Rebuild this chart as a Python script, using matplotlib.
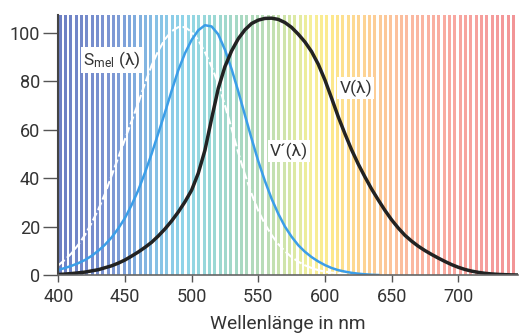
import numpy as np
import matplotlib
matplotlib.use('Agg')
import matplotlib.pyplot as plt
from matplotlib.colors import LinearSegmentedColormap

plt.rcParams['font.family'] = ['Roboto', 'DejaVu Sans']
plt.rcParams['mathtext.default'] = 'regular'

# Kurvenwerte alle 5 nm ab 400 nm
v_photopic = [0.2, 0.4, 0.6, 0.9, 1.2, 1.7, 2.2, 3.0, 3.8, 4.9,
              6.2, 7.8, 9.5, 11.4, 13.5, 16.1, 19, 22.3, 26, 30.2,
              35, 42, 51.5, 64.5, 77, 86, 92.5, 97.5, 101.2, 103.8,
              105.2, 105.9, 106, 105.5, 104.2, 102.2, 99.4, 96.2, 92.2, 87,
              80.5, 73, 65.3, 58.3, 51.7, 45.8, 40.5, 35.5, 31, 26.7,
              22.8, 19.4, 16.4, 14.0, 11.9, 10.1, 8.5, 7.0, 5.6, 4.3,
              3.2, 2.3, 1.6, 1.1, 0.7, 0.45, 0.25, 0.15, 0.05, 0]
v_scotopic = [2.1, 2.9, 3.8, 4.9, 6.2, 7.9, 10, 12.5, 15.5, 19.2,
              23.5, 28.9, 35, 42.2, 50, 58.5, 67, 76, 84.5, 91.5,
              97, 101, 103.1, 102.6, 99.3, 93, 85, 75.8, 66, 56.3,
              47, 38.8, 31.5, 25.3, 20, 15.8, 12.3, 9.6, 7.4, 5.6,
              4.1, 2.9, 2.0, 1.4, 0.9, 0.55, 0.3, 0.1, 0]
s_mel = [4, 6.3, 9, 12.5, 16.5, 21.5, 27, 33.5, 41, 48.5,
         56, 63.5, 71, 79, 86.5, 92.5, 97.3, 100.6, 102.3, 102.3,
         100.3, 97, 92, 86, 79, 70, 60.5, 50.5, 41.5, 33.5,
         26.5, 21, 16.5, 12.8, 9.8, 7.4, 5.5, 4, 2.9, 2,
         1.4, 1, 0.7, 0.45, 0.3, 0.15, 0.05]

lam_v = list(range(400, 400 + 5 * len(v_photopic), 5))
lam_vs = list(range(400, 400 + 5 * len(v_scotopic), 5))
lam_mel = list(range(400, 400 + 5 * len(s_mel), 5))

# Farbverlauf des Spektrums (Streifen im Hintergrund)
farb_lam = [400, 440, 455, 475, 495, 515, 535, 555, 575, 590, 605, 625, 645, 665, 695, 725, 745]
farb_hex = ['#6c7ec2', '#7d97d4', '#7fa9dc', '#87c2e6', '#90d5e8', '#99d8d6', '#a6d8c4',
            '#badcb6', '#d8e8a6', '#f6ef98', '#fde88c', '#fdd692', '#fcc898', '#fbb9a0',
            '#f8a8a0', '#f59c9b', '#f29496']

xmin, xmax = 400, 744.8
ymax = 107.3

fig = plt.figure(figsize=(5.19, 3.34), dpi=100)
ax = fig.add_axes([0.1123, 0.1766, 0.8857, 0.7784])

pos = [(l - xmin) / (xmax - xmin) for l in farb_lam]
pos[0], pos[-1] = 0.0, 1.0
cmap = LinearSegmentedColormap.from_list('spektrum', list(zip(pos, farb_hex)))

streifen = np.arange(401.5, 745, 4.0)
farben = [cmap((s - xmin) / (xmax - xmin)) for s in streifen]
ax.bar(streifen, ymax, width=2.3, bottom=0, color=farben, linewidth=0, zorder=1)

ax.plot(lam_mel, s_mel, color='white', lw=1.5, ls=(0, (4, 1.5)), zorder=3)
ax.plot(lam_vs, v_scotopic, color='#3b9ee8', lw=1.8, zorder=4)
ax.plot(lam_v, v_photopic, color='#222222', lw=2.5, zorder=5)

box = dict(facecolor='white', edgecolor='none', pad=1.5)
ax.text(440, 88.7, r'S$_{mel}$ (λ)', fontsize=12.5, color='#333333', ha='center', va='center', bbox=box, zorder=6)
ax.text(573, 51.2, 'V´(λ)', fontsize=12.5, color='#333333', ha='center', va='center', bbox=box, zorder=6)
ax.text(623, 77.2, 'V(λ)', fontsize=12.5, color='#333333', ha='center', va='center', bbox=box, zorder=6)

ax.set_xlim(xmin, xmax)
ax.set_ylim(0, ymax)
ax.set_xticks([400, 450, 500, 550, 600, 650, 700])
ax.set_yticks([0, 20, 40, 60, 80, 100])
ax.tick_params(axis='y', length=11, width=1, color='#555555', labelsize=13, labelcolor='#333333', pad=2)
ax.tick_params(axis='x', length=5, width=1, color='#555555', labelsize=13, labelcolor='#333333', pad=4)
ax.set_xlabel('Wellenlänge in nm', fontsize=13.8, color='#333333', labelpad=7)

for s in ['top', 'right']:
    ax.spines[s].set_visible(False)
ax.spines['left'].set_color('#444444')
ax.spines['left'].set_linewidth(1.5)
ax.spines['bottom'].set_color('#666666')
ax.spines['bottom'].set_linewidth(1.2)
ax.spines['left'].set_zorder(7)
ax.spines['bottom'].set_zorder(7)

fig.savefig('out.png', dpi=100)
